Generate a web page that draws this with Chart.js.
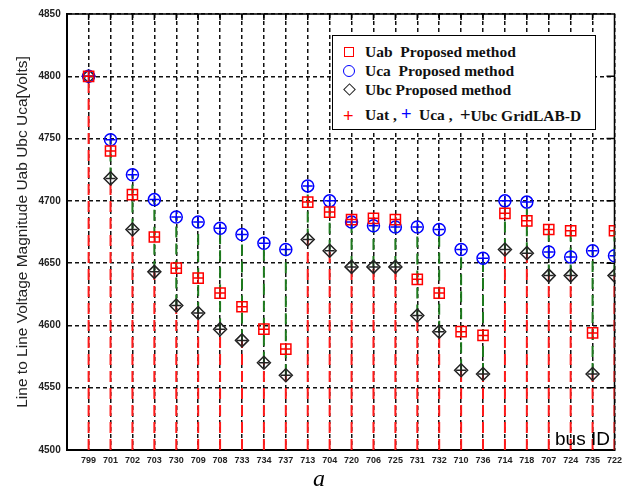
<!DOCTYPE html>
<html>
<head>
<meta charset="utf-8">
<script src="https://cdn.jsdelivr.net/npm/chart.js@4.4.1/dist/chart.umd.min.js"></script>
<style>
  body { margin: 0; background: #fff; }
  #wrap { position: relative; width: 627px; height: 490px; }
  #legend {
    position: absolute; left: 332px; top: 35px; width: 262px; height: 93px;
    border: 1.5px solid #000; background: #fff;
    font: bold 15.5px "Liberation Serif", serif; color: #111;
  }
  #legend .row { position: absolute; left: 0; width: 260px; height: 18px; line-height: 18px; white-space: nowrap; }
  #legend .sym { position: absolute; box-sizing: border-box; }
  #legend .txt { position: absolute; top: 0; }
  .plus { position: absolute; font: 18px "Liberation Sans", sans-serif; line-height: 18px; }
  #busid { position: absolute; left: 555px; top: 429px; font: 19px "Liberation Sans", sans-serif; line-height: 19px; color: #000; }
  #sub { position: absolute; left: 313px; top: 466px; font: italic 24px "Liberation Serif", serif; line-height: 24px; color: #000; }
</style>
</head>
<body>
<div id="wrap">
  <canvas id="chart" width="627" height="490"></canvas>
  <div id="legend">
    <div class="row" style="top:7px"><span class="sym" style="left:11px;top:4px;width:10px;height:10px;border:1.5px solid #f00"></span><span class="txt" style="left:32px">Uab&nbsp; Proposed method</span></div>
    <div class="row" style="top:26px"><span class="sym" style="left:10px;top:3px;width:12px;height:12px;border:1.5px solid #00f;border-radius:50%"></span><span class="txt" style="left:32px">Uca&nbsp; Proposed method</span></div>
    <div class="row" style="top:45px"><span class="sym" style="left:12px;top:4px;width:9px;height:9px;border:1.5px solid #222;transform:rotate(45deg)"></span><span class="txt" style="left:32px">Ubc Proposed method</span></div>
    <div class="row" style="top:70px"><span class="plus" style="left:10px;top:1px;color:#f00">+</span><span class="txt" style="left:32px">Uat ,</span><span class="plus" style="left:68px;top:-1px;color:#00f">+</span><span class="txt" style="left:86px">Uca ,</span><span class="txt" style="left:127px"><span style="font-family:'Liberation Sans',sans-serif;font-weight:normal;font-size:18px">+</span>Ubc GridLAB-D</span></div>
  </div>
  <div id="busid">bus ID</div>
  <div id="sub">a</div>
</div>
<script>
// bus numbers along the x axis
const busIds = ['799', '701', '702', '703', '730', '709', '708', '733', '734', '737', '713', '704', '720',
                '706', '725', '731', '732', '710', '736', '714', '718', '707', '724', '735', '722'];

// proposed method, line to line voltages (V)
const uab = [4800, 4740, 4705, 4671, 4646, 4638, 4626, 4615, 4597, 4581, 4699, 4691, 4685,
             4686, 4685, 4637, 4626, 4595, 4592, 4690, 4684, 4677, 4676, 4594, 4676];
const uca = [4800, 4749, 4721, 4701, 4687, 4683, 4678, 4673, 4666, 4661, 4712, 4700, 4683,
             4680, 4679, 4679, 4677, 4661, 4654, 4700, 4699, 4659, 4655, 4660, 4656];
const ubc = [4800, 4718, 4677, 4643, 4616, 4610, 4597, 4588, 4570, 4560, 4669, 4660, 4647,
             4647, 4647, 4608, 4595, 4564, 4561, 4661, 4658, 4640, 4640, 4561, 4640];

// GridLAB-D results (same as proposed method at this scale)
const gldUab = uab;
const gldUca = uca;
const gldUbc = ubc;

// y axis
const yMin = 4500;
const yMax = 4850;
const yStep = 50;

function pts(arr) {
  return arr.map((v, i) => ({ x: i, y: v }));
}

// stems: red from the axis to the lowest value, green between lowest and highest
const redStem = [];
const greenStem = [];
busIds.forEach((b, i) => {
  const lo = Math.min(uab[i], uca[i], ubc[i]);
  const hi = Math.max(uab[i], uca[i], ubc[i]);
  redStem.push({ x: i, y: yMin }, { x: i, y: lo }, { x: i, y: null });
  if (hi > lo) greenStem.push({ x: i, y: lo }, { x: i, y: hi }, { x: i, y: null });
});

// frame and inner ticks on the top and right sides
const framePlugin = {
  id: 'frame',
  beforeDatasetsDraw(chart) {
    const { ctx, chartArea: a, scales } = chart;
    ctx.save();
    ctx.strokeStyle = '#000';
    ctx.lineWidth = 1.5;
    ctx.beginPath();
    ctx.moveTo(a.left, a.top);
    ctx.lineTo(a.right, a.top);
    ctx.lineTo(a.right, a.bottom);
    for (let v = yMin + yStep; v < yMax; v += yStep) {
      const y = scales.y.getPixelForValue(v);
      ctx.moveTo(a.right - 8, y);
      ctx.lineTo(a.right, y);
    }
    for (let i = 0; i < busIds.length - 1; i++) {
      const x = scales.x.getPixelForValue(i);
      ctx.moveTo(x, a.top);
      ctx.lineTo(x, a.top + 6);
    }
    ctx.stroke();
    ctx.restore();
  }
};

const ctx = document.getElementById('chart').getContext('2d');
new Chart(ctx, {
  type: 'scatter',
  data: {
    datasets: [
      { type: 'line', data: redStem, borderColor: '#ff1a1a', borderWidth: 2, borderDash: [11, 6],
        pointRadius: 0, spanGaps: false, order: 5 },
      { type: 'line', data: greenStem, borderColor: '#1e7a1e', borderWidth: 2, borderDash: [11, 6],
        pointRadius: 0, spanGaps: false, order: 5 },
      { label: 'Uab', data: pts(uab), pointStyle: 'rect', pointRadius: 7.2, borderColor: '#ff0000',
        backgroundColor: 'transparent', pointBorderWidth: 1.5, order: 2 },
      { label: 'Uca', data: pts(uca), pointStyle: 'circle', pointRadius: 6, borderColor: '#0000ff',
        backgroundColor: 'transparent', pointBorderWidth: 1.5, order: 2 },
      { label: 'Ubc', data: pts(ubc), pointStyle: 'rectRot', pointRadius: 6.5, borderColor: '#222',
        backgroundColor: 'transparent', pointBorderWidth: 1.5, order: 2 },
      { label: 'Uab GridLAB-D', data: pts(gldUab), pointStyle: 'cross', pointRadius: 5, borderColor: '#ff0000',
        pointBorderWidth: 1.5, order: 1 },
      { label: 'Uca GridLAB-D', data: pts(gldUca), pointStyle: 'cross', pointRadius: 5, borderColor: '#0000ff',
        pointBorderWidth: 1.5, order: 1 },
      { label: 'Ubc GridLAB-D', data: pts(gldUbc), pointStyle: 'cross', pointRadius: 5, borderColor: '#222',
        pointBorderWidth: 1.5, order: 1 }
    ]
  },
  options: {
    responsive: false,
    animation: false,
    devicePixelRatio: 1,
    layout: { padding: { top: 14, right: 9, left: 0, bottom: 0 } },
    plugins: { legend: { display: false }, tooltip: { enabled: false } },
    scales: {
      x: {
        type: 'linear',
        min: -1,
        max: busIds.length - 1,
        afterFit: (s) => { s.height = 40; },
        ticks: {
          stepSize: 1,
          autoSkip: false,
          maxRotation: 0,
          padding: 5,
          color: '#222',
          font: { family: 'Liberation Sans', size: 9, weight: 'bold' },
          callback: (v) => busIds[v] || ''
        },
        grid: { color: '#111', lineWidth: 1.5, drawTicks: false },
        border: { color: '#000', width: 2, dash: [4, 3] }
      },
      y: {
        min: yMin,
        max: yMax,
        afterFit: (s) => { s.width = 66.7; },
        ticks: {
          stepSize: yStep,
          padding: 6,
          color: '#222',
          font: { family: 'Liberation Sans', size: 10, weight: 'bold' },
          callback: (v) => String(v)
        },
        grid: { color: '#111', lineWidth: 1.5, drawTicks: false },
        border: { color: '#000', width: 2, dash: [4, 3] },
        title: {
          display: true,
          text: 'Line to Line Voltage Magnitude Uab Ubc Uca[Volts]',
          color: '#222',
          font: { family: 'Liberation Sans', size: 15.5 },
          padding: { top: 13, bottom: 0 }
        }
      }
    }
  },
  plugins: [framePlugin]
});
</script>
</body>
</html>
